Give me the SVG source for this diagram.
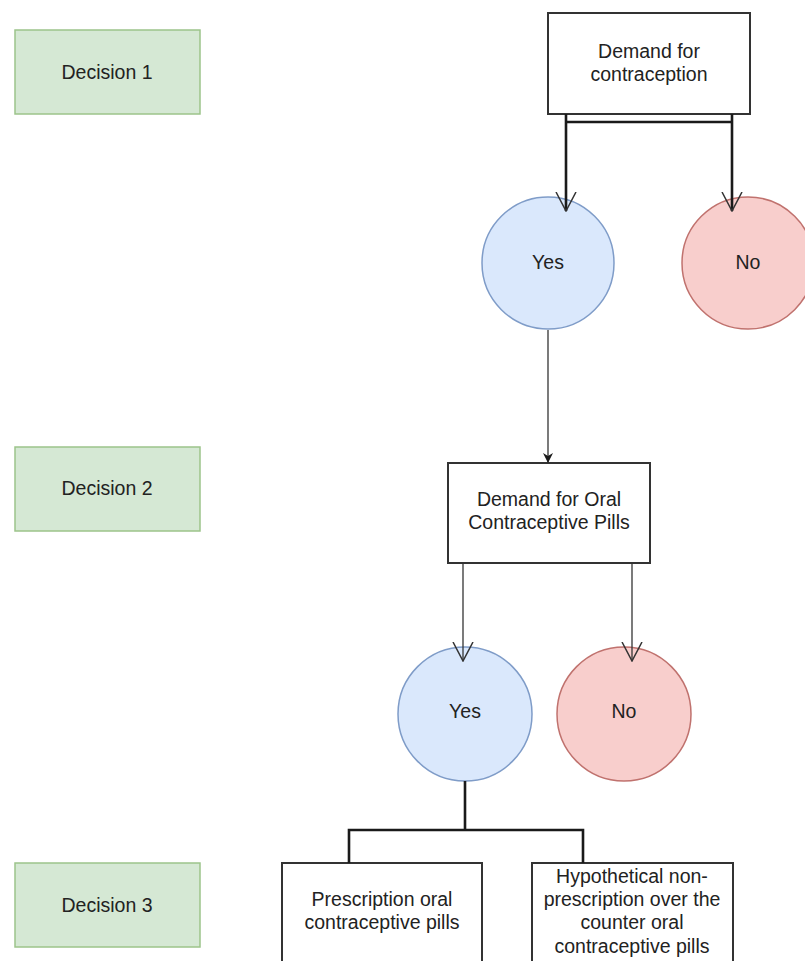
<svg xmlns="http://www.w3.org/2000/svg" width="805" height="961" viewBox="0 0 805 961">
<defs>
<style>
text{font-family:"Liberation Sans",Arial,sans-serif;font-size:19.5px;fill:#222;text-anchor:middle}
.box{fill:#ffffff;stroke:#333;stroke-width:2}
.dec{fill:#d5e8d4;stroke:#9cc48a;stroke-width:1.5}
.yes{fill:#dae8fc;stroke:#7f9cc8;stroke-width:1.5}
.no{fill:#f8cecc;stroke:#c0726e;stroke-width:1.5}
.thick{fill:none;stroke:#1a1a1a;stroke-width:2.6}
.thin{fill:none;stroke:#333;stroke-width:1.3}
</style>
<marker id="open" viewBox="0 0 20 22" refX="19" refY="11" markerWidth="20" markerHeight="22" markerUnits="userSpaceOnUse" orient="auto">
<path d="M0,1 L19,11 L0,21" fill="none" stroke="#333" stroke-width="1.5"/>
</marker>
<marker id="fill" viewBox="0 0 10 10" refX="10" refY="5" markerWidth="10" markerHeight="10" markerUnits="userSpaceOnUse" orient="auto">
<path d="M0,0 L10,5 L0,10 L3,5 Z" fill="#1a1a1a"/>
</marker>
</defs>
<rect width="805" height="961" fill="#ffffff"/>
<g id="decision1"><rect class="dec" x="15" y="30" width="185" height="84"/><text x="107" y="79">Decision 1</text></g>
<g id="decision2"><rect class="dec" x="15" y="447" width="185" height="84"/><text x="107" y="495">Decision 2</text></g>
<g id="decision3"><rect class="dec" x="15" y="863" width="185" height="84"/><text x="107" y="912">Decision 3</text></g>
<g id="demand-contraception"><rect class="box" x="548" y="13" width="202" height="101"/><text x="649" y="58">Demand for</text><text x="649" y="81">contraception</text></g>
<g id="yes1"><circle class="yes" cx="548" cy="263" r="66"/><text x="548" y="269">Yes</text></g>
<g id="no1"><circle class="no" cx="748" cy="263" r="66"/><text x="748" y="269">No</text></g>
<g id="demand-ocp"><rect class="box" x="448" y="463" width="202" height="100"/><text x="549" y="506">Demand for Oral</text><text x="549" y="529">Contraceptive Pills</text></g>
<g id="yes2"><circle class="yes" cx="465" cy="714" r="67"/><text x="465" y="718">Yes</text></g>
<g id="no2"><circle class="no" cx="624" cy="714" r="67"/><text x="624" y="718">No</text></g>
<g id="prescription"><rect class="box" x="282" y="863" width="200" height="110"/><text x="382" y="906">Prescription oral</text><text x="382" y="929">contraceptive pills</text></g>
<g id="otc"><rect class="box" x="532" y="863" width="201" height="110"/><text x="632" y="883">Hypothetical non-</text><text x="632" y="906">prescription over the</text><text x="632" y="929">counter oral</text><text x="632" y="953">contraceptive pills</text></g>
<g id="connectors">
<path class="thick" d="M566,114 V211" marker-end="url(#open)"/>
<path class="thick" d="M732,114 V211" marker-end="url(#open)"/>
<path class="thick" d="M566,122 H732"/>
<path class="thin" d="M548,330 V463" marker-end="url(#fill)"/>
<path class="thin" d="M463,563 V661" marker-end="url(#open)"/>
<path class="thin" d="M632,563 V661" marker-end="url(#open)"/>
<path class="thick" d="M465,781 V830 M349,863 V830 H583 V863"/>
</g>
</svg>
